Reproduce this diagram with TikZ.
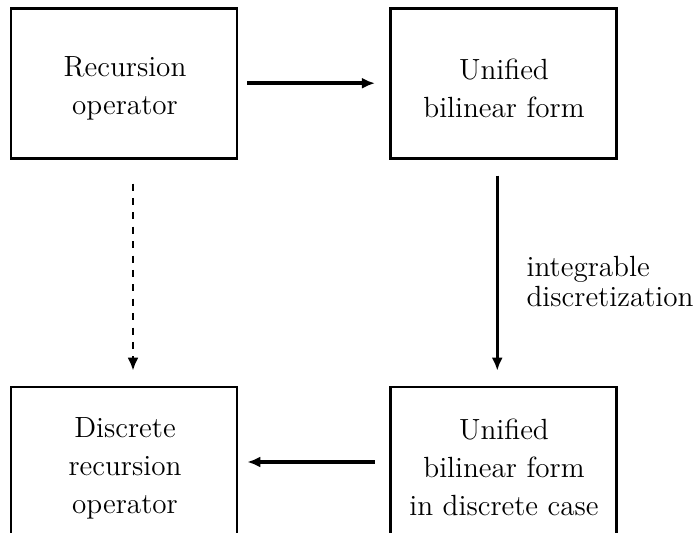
\documentclass[tikz,border=0pt]{standalone}
\usetikzlibrary{arrows.meta}
\begin{document}
\begin{tikzpicture}[x=0.5pt,y=-0.5pt,
  box/.style={draw, line width=1.3pt, minimum width=113pt, minimum height=75pt, inner sep=0pt},
  txt/.style={inner sep=0pt, align=center, font=\fontsize{14.6}{19}\selectfont},
  arr/.style={-{Latex[length=6.5pt,width=5.5pt]}},
  harr/.style={arr, line width=1.9pt},
  varr/.style={arr, line width=1.35pt},
  lbl/.style={inner sep=0pt, align=left, font=\fontsize{14.6}{15.2}\selectfont}]
\useasboundingbox (0,0) rectangle (696,533);
\clip (0,0) rectangle (696,533);
\node[box] (TL) at (124,83.25) {};
\node[box] (TR) at (503.25,83.25) {};
\node[box] (BL) at (124,462) {};
\node[box] (BR) at (503.25,462) {};
\node[txt] (TLt) at (125,88) {Recursion\\operator};
\node[txt] (TRt) at (504,88) {Unified\\bilinear form};
\node[txt] (BLt) at (125,468.5) {Discrete\\recursion\\operator};
\node[txt] (BRt) at (504,467) {Unified\\bilinear form\\in discrete case};
\draw[harr, shorten <=4.5pt, shorten >=7pt] (TL.east) -- (TR.west);
\draw[harr, shorten <=7pt, shorten >=4.5pt] (BR.west) -- (BL.east);
\draw[varr, dash pattern=on 3.5pt off 3.7pt, shorten <=12pt, shorten >=7.5pt] ([xshift=4.5pt]TL.south) -- ([xshift=4.5pt]BL.north);
\draw[varr, shorten <=8pt, shorten >=7.5pt] ([xshift=-3pt]TR.south) -- ([xshift=-3pt]BR.north)
  node[lbl, pos=0.5, anchor=west, xshift=14pt, yshift=-4.5pt] (L) {integrable\\discretization};
\end{tikzpicture}
\end{document}
